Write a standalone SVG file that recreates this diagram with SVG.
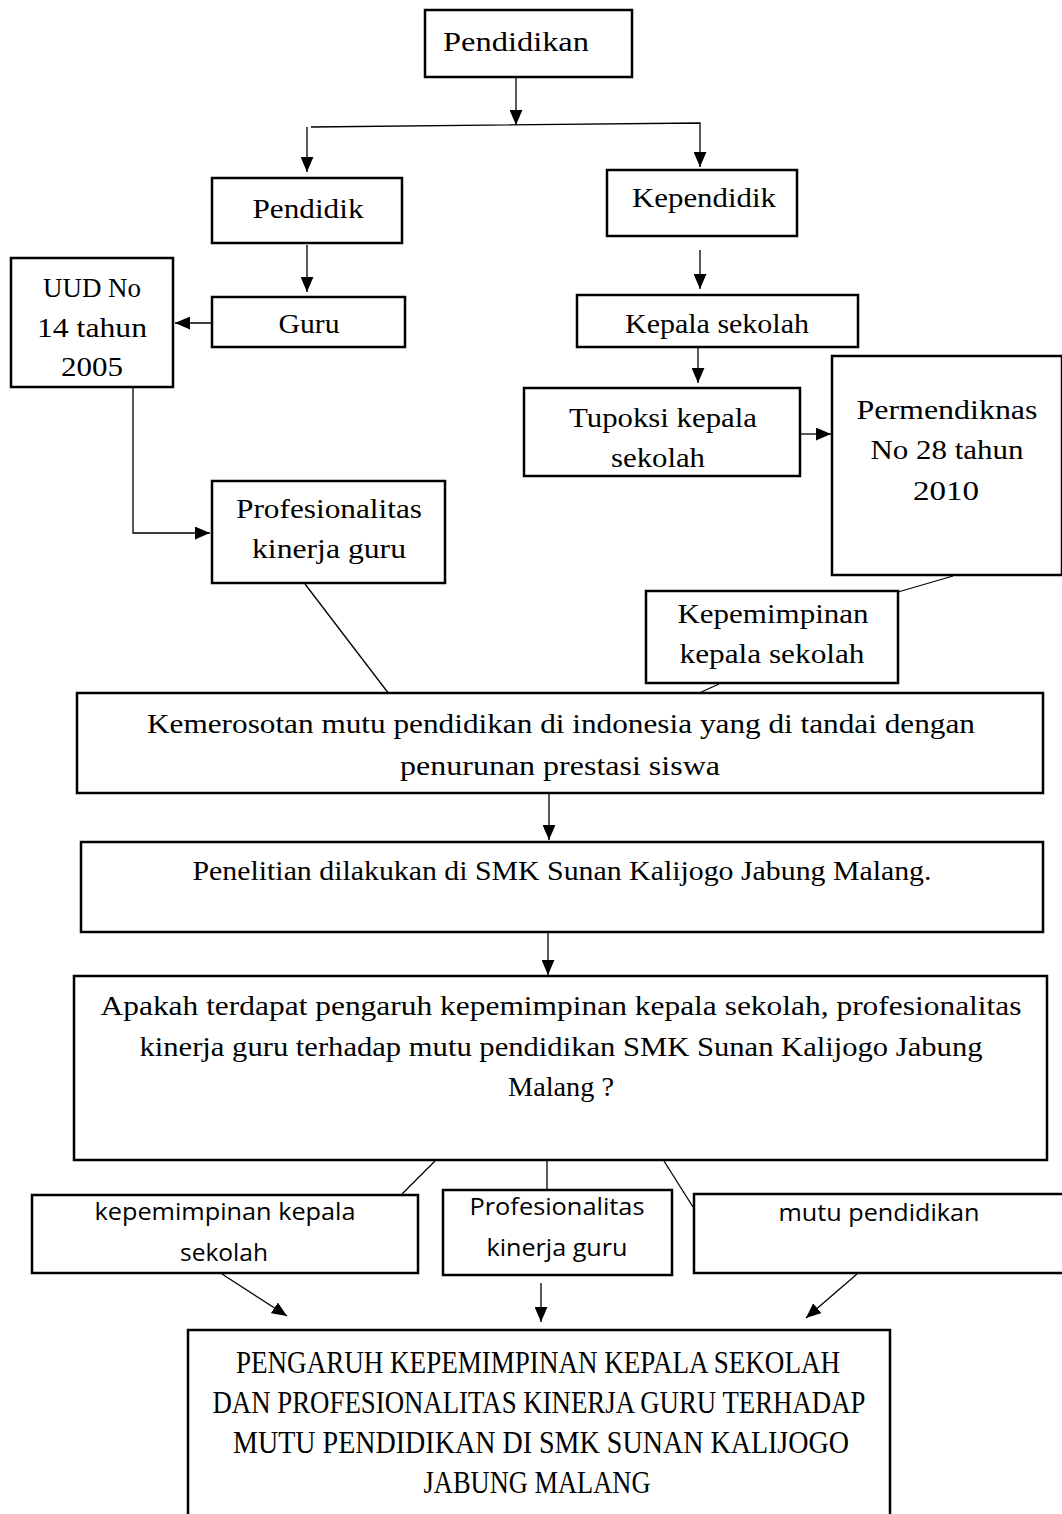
<svg xmlns="http://www.w3.org/2000/svg" width="1062" height="1514" viewBox="0 0 1062 1514">
<style>
.box{fill:#fff;stroke:#000;stroke-width:2.5}
.t{font-family:"Liberation Serif","Times New Roman",serif;font-size:27px;fill:#000;text-anchor:middle}
.s{font-family:"Open Sans","Liberation Sans",sans-serif;font-size:23px;fill:#000;text-anchor:middle}
.u{font-family:"Liberation Serif","Times New Roman",serif;font-size:32px;fill:#000;text-anchor:middle}
.c{fill:none;stroke:#000;stroke-width:1.3}
</style>
<defs>
<marker id="ah" viewBox="0 0 14 12" refX="14" refY="6" markerWidth="15" markerHeight="13" markerUnits="userSpaceOnUse" orient="auto">
<path d="M0,0 L14,6 L0,12 z" fill="#000"/>
</marker>
</defs>
<rect width="1062" height="1514" fill="#fff"/>
<g id="connectors">
<line class="c" x1="516" y1="77" x2="516" y2="125" marker-end="url(#ah)"/>
<polyline class="c" points="311,127 700,123 700,167" marker-end="url(#ah)"/>
<polyline class="c" points="307,127 307,172" marker-end="url(#ah)"/>
<line class="c" x1="307" y1="245" x2="307" y2="292" marker-end="url(#ah)"/>
<line class="c" x1="212" y1="323" x2="175" y2="323" marker-end="url(#ah)"/>
<polyline class="c" points="133,388 133,533 210,533" marker-end="url(#ah)"/>
<line class="c" x1="700" y1="250" x2="700" y2="289" marker-end="url(#ah)"/>
<line class="c" x1="698" y1="348" x2="698" y2="383" marker-end="url(#ah)"/>
<line class="c" x1="801" y1="434" x2="831" y2="434" marker-end="url(#ah)"/>
<line class="c" x1="953" y1="576" x2="898" y2="592"/>
<line class="c" x1="719" y1="684" x2="697" y2="694"/>
<line class="c" x1="305" y1="584" x2="389" y2="694"/>
<line class="c" x1="549" y1="794" x2="549" y2="840" marker-end="url(#ah)"/>
<line class="c" x1="548" y1="933" x2="548" y2="975" marker-end="url(#ah)"/>
<line class="c" x1="435" y1="1161" x2="402" y2="1194"/>
<line class="c" x1="547" y1="1161" x2="547" y2="1190"/>
<line class="c" x1="664" y1="1161" x2="693" y2="1207"/>
<line class="c" x1="222" y1="1274" x2="287" y2="1316" marker-end="url(#ah)"/>
<line class="c" x1="541" y1="1283" x2="541" y2="1322" marker-end="url(#ah)"/>
<line class="c" x1="857" y1="1274" x2="806" y2="1318" marker-end="url(#ah)"/>
</g>
<g id="n-pendidikan"><rect class="box" x="425" y="10" width="207" height="67"/><text class="t" x="516" y="51" textLength="146" lengthAdjust="spacingAndGlyphs">Pendidikan</text></g>
<g id="n-pendidik"><rect class="box" x="212" y="178" width="190" height="65"/><text class="t" x="308" y="218" textLength="111" lengthAdjust="spacingAndGlyphs">Pendidik</text></g>
<g id="n-kependidik"><rect class="box" x="607" y="170" width="190" height="66"/><text class="t" x="704" y="207" textLength="144" lengthAdjust="spacingAndGlyphs">Kependidik</text></g>
<g id="n-uud"><rect class="box" x="11" y="258" width="162" height="129"/>
<text class="t" x="92" y="297" textLength="98" lengthAdjust="spacingAndGlyphs">UUD No</text><text class="t" x="92" y="337" textLength="110" lengthAdjust="spacingAndGlyphs">14 tahun</text><text class="t" x="92" y="376" textLength="62" lengthAdjust="spacingAndGlyphs">2005</text></g>
<g id="n-guru"><rect class="box" x="212" y="297" width="193" height="50"/><text class="t" x="309" y="333" textLength="61" lengthAdjust="spacingAndGlyphs">Guru</text></g>
<g id="n-kepsek"><rect class="box" x="577" y="295" width="281" height="52"/><text class="t" x="717" y="333" textLength="184" lengthAdjust="spacingAndGlyphs">Kepala sekolah</text></g>
<g id="n-tupoksi"><rect class="box" x="524" y="388" width="276" height="88"/>
<text class="t" x="663" y="427" textLength="188" lengthAdjust="spacingAndGlyphs">Tupoksi kepala</text><text class="t" x="658" y="467" textLength="94" lengthAdjust="spacingAndGlyphs">sekolah</text></g>
<g id="n-permen"><rect class="box" x="832" y="356" width="230" height="219"/>
<text class="t" x="947" y="419" textLength="181" lengthAdjust="spacingAndGlyphs">Permendiknas</text><text class="t" x="947" y="459" textLength="153" lengthAdjust="spacingAndGlyphs">No 28 tahun</text><text class="t" x="946" y="500" textLength="66" lengthAdjust="spacingAndGlyphs">2010</text></g>
<g id="n-prof"><rect class="box" x="212" y="481" width="233" height="102"/>
<text class="t" x="329" y="518" textLength="186" lengthAdjust="spacingAndGlyphs">Profesionalitas</text><text class="t" x="329" y="558" textLength="154" lengthAdjust="spacingAndGlyphs">kinerja guru</text></g>
<g id="n-kepemimpinan"><rect class="box" x="646" y="591" width="252" height="92"/>
<text class="t" x="773" y="623" textLength="191" lengthAdjust="spacingAndGlyphs">Kepemimpinan</text><text class="t" x="772" y="663" textLength="185" lengthAdjust="spacingAndGlyphs">kepala sekolah</text></g>
<g id="n-kemerosotan"><rect class="box" x="77" y="693" width="966" height="100"/>
<text class="t" x="561" y="733" textLength="828" lengthAdjust="spacingAndGlyphs">Kemerosotan mutu pendidikan di indonesia yang di tandai dengan</text>
<text class="t" x="560" y="775" textLength="320" lengthAdjust="spacingAndGlyphs">penurunan prestasi siswa</text></g>
<g id="n-penelitian"><rect class="box" x="81" y="842" width="962" height="90"/>
<text class="t" x="562" y="880" textLength="739" lengthAdjust="spacingAndGlyphs">Penelitian dilakukan di SMK Sunan Kalijogo Jabung Malang.</text></g>
<g id="n-apakah"><rect class="box" x="74" y="976" width="973" height="184"/>
<text class="t" x="561" y="1015" textLength="921" lengthAdjust="spacingAndGlyphs">Apakah terdapat pengaruh kepemimpinan kepala sekolah, profesionalitas</text>
<text class="t" x="561" y="1056" textLength="843" lengthAdjust="spacingAndGlyphs">kinerja guru terhadap mutu pendidikan SMK Sunan Kalijogo Jabung</text>
<text class="t" x="561" y="1096" textLength="106" lengthAdjust="spacingAndGlyphs">Malang ?</text></g>
<g id="n-var1"><rect class="box" x="32" y="1195" width="386" height="78"/>
<text class="s" x="225" y="1220" textLength="261" lengthAdjust="spacingAndGlyphs">kepemimpinan kepala</text><text class="s" x="224" y="1261" textLength="88" lengthAdjust="spacingAndGlyphs">sekolah</text></g>
<g id="n-var2"><rect class="box" x="443" y="1190" width="229" height="85"/>
<text class="s" x="557" y="1215" textLength="175" lengthAdjust="spacingAndGlyphs">Profesionalitas</text><text class="s" x="557" y="1256" textLength="141" lengthAdjust="spacingAndGlyphs">kinerja guru</text></g>
<g id="n-var3"><rect class="box" x="694" y="1194" width="370" height="79"/>
<text class="s" x="879" y="1221" textLength="201" lengthAdjust="spacingAndGlyphs">mutu pendidikan</text></g>
<g id="n-judul"><rect class="box" x="188" y="1330" width="702" height="200"/>
<text class="u" x="538" y="1373" textLength="604" lengthAdjust="spacingAndGlyphs">PENGARUH KEPEMIMPINAN KEPALA SEKOLAH</text>
<text class="u" x="539" y="1413" textLength="653" lengthAdjust="spacingAndGlyphs">DAN PROFESIONALITAS KINERJA GURU TERHADAP</text>
<text class="u" x="541" y="1453" textLength="616" lengthAdjust="spacingAndGlyphs">MUTU PENDIDIKAN DI SMK SUNAN KALIJOGO</text>
<text class="u" x="537" y="1493" textLength="227" lengthAdjust="spacingAndGlyphs">JABUNG MALANG</text></g>
</svg>
